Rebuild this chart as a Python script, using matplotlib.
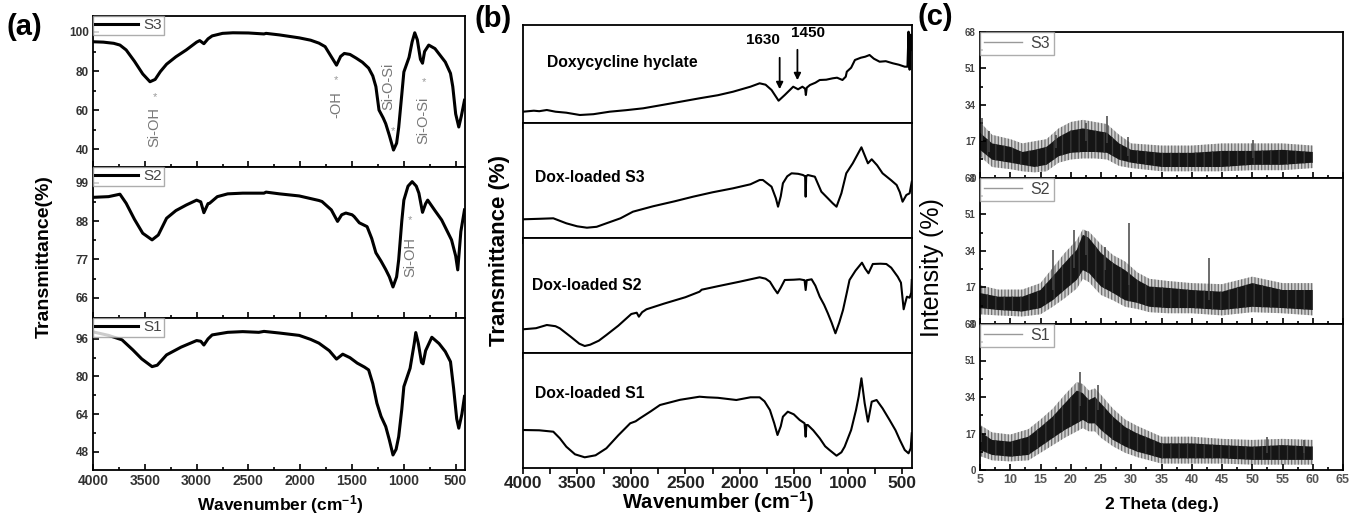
import numpy as np
import matplotlib
matplotlib.use("Agg")
import matplotlib.pyplot as plt
from matplotlib.ticker import MultipleLocator, FixedLocator

plt.rcParams['font.family'] = ['Liberation Sans', 'DejaVu Sans']
plt.rcParams['mathtext.fontset'] = 'custom'
plt.rcParams['mathtext.rm'] = 'Liberation Sans:bold'
plt.rcParams['mathtext.bf'] = 'Liberation Sans:bold'
plt.rcParams['mathtext.default'] = 'bf'
plt.rcParams['hatch.linewidth'] = 0.9

# ---------------- Panel (a): FTIR of S1-S3 ----------------
a_s3_w = [4000, 3900, 3800, 3740, 3680, 3600, 3520, 3450, 3400, 3350, 3290, 3200, 3100, 3000, 2970, 2930,
          2890, 2850, 2750, 2650, 2500, 2350, 2330, 2200, 2010, 1900, 1820, 1760, 1700, 1650, 1610, 1575,
          1520, 1460, 1400, 1340, 1300, 1270, 1240, 1200, 1175, 1140, 1100, 1070, 1050, 1020, 1000, 950,
          920, 895, 870, 840, 820, 800, 760, 700, 600, 550, 528, 500, 470, 445, 415]
a_s3_t = [95.0, 94.8, 94.2, 93.3, 90.8, 85.0, 78.5, 74.5, 75.7, 79.7, 83.5, 87.3, 90.8, 94.8, 95.6, 94.0,
          96.5, 98.0, 99.3, 99.6, 99.5, 99.0, 99.3, 98.5, 97.0, 95.8, 94.3, 92.5, 87.3, 83.0, 87.5, 89.0,
          88.5, 86.6, 84.5, 81.5, 77.5, 72.0, 60.0, 56.0, 53.0, 47.0, 39.5, 43.0, 51.0, 68.0, 79.5, 87.0,
          95.0, 99.6, 96.0, 86.0, 84.0, 90.0, 93.3, 91.5, 84.6, 78.8, 72.0, 58.0, 51.3, 57.0, 65.0]

a_s2_w = [4000, 3850, 3740, 3680, 3600, 3520, 3430, 3370, 3290, 3200, 3100, 3000, 2960, 2930, 2890, 2875,
          2800, 2700, 2555, 2350, 2330, 2200, 2010, 1820, 1790, 1700, 1640, 1600, 1560, 1500, 1480, 1430,
          1355, 1310, 1270, 1220, 1175, 1140, 1105, 1070, 1050, 1020, 1000, 960, 920, 880, 855, 820, 790,
          770, 700, 635, 540, 500, 480, 450, 415]
a_s2_t = [94.8, 95.0, 95.7, 93.1, 88.5, 84.5, 82.6, 84.0, 88.8, 91.0, 92.6, 94.0, 93.5, 90.4, 93.0, 93.1,
          95.0, 95.8, 96.0, 96.0, 96.3, 95.8, 95.2, 93.9, 93.6, 91.2, 87.9, 89.8, 90.3, 89.8, 89.3, 87.5,
          86.4, 83.0, 78.9, 76.5, 74.1, 72.0, 69.1, 72.0, 76.9, 88.0, 94.0, 98.0, 99.3, 98.0, 96.0, 90.5, 93.0,
          94.0, 91.0, 88.3, 82.6, 78.0, 74.0, 85.0, 91.2]

a_s1_w = [4000, 3850, 3720, 3615, 3530, 3430, 3380, 3290, 3150, 3000, 2960, 2930, 2890, 2850, 2700, 2555,
          2400, 2350, 2200, 2010, 1900, 1820, 1720, 1650, 1590, 1520, 1450, 1380, 1340, 1300, 1260, 1220,
          1175, 1140, 1105, 1075, 1050, 1020, 1000, 940, 900, 885, 860, 830, 815, 790, 730, 660, 600, 550,
          520, 490, 470, 440, 415]
a_s1_t = [99.0, 97.5, 95.6, 91.3, 87.5, 84.2, 84.8, 89.2, 92.5, 95.3, 95.0, 93.4, 96.0, 97.7, 98.8, 99.1,
          98.8, 99.2, 98.5, 97.5, 95.8, 94.2, 91.0, 87.4, 89.5, 88.0, 85.7, 84.0, 82.8, 77.0, 68.6, 63.0,
          58.7, 53.0, 46.6, 49.0, 54.4, 66.0, 75.7, 83.5, 94.0, 98.7, 94.0, 86.0, 85.4, 91.0, 96.7, 94.0, 90.6, 86.3,
          75.0, 62.0, 58.0, 64.0, 71.5]

a_labels = ["S3", "S2", "S1"]
a_yticks = [[40, 60, 80, 100], [66, 77, 88, 99], [48, 64, 80, 96]]
a_ylims = [(30.8, 108.2), (60.2, 103.5), (40.2, 104.9)]
a_xticks = [4000, 3500, 3000, 2500, 2000, 1500, 1000, 500]

# ---------------- Panel (b): FTIR of drug and loaded samples ----------------
b_dox_w = [4000, 3900, 3850, 3780, 3700, 3600, 3475, 3350, 3200, 3050, 2890, 2700, 2370, 2200, 2060, 1900,
           1815, 1760, 1705, 1640, 1583, 1505, 1460, 1420, 1395, 1388, 1380, 1350, 1300, 1260, 1200, 1140,
           1100, 1050, 1020, 1010, 970, 935, 880, 840, 800, 760, 707, 650, 585, 530, 475, 450, 440, 430,
           420, 410]
b_dox_t = [11, 12, 11.5, 12.7, 11, 10, 7.7, 8.5, 11, 12.5, 14.4, 18, 24.4, 27.5, 31, 36,
           39.4, 38, 32.7, 22, 27.7, 36, 33.4, 36, 34, 27.7, 35, 37.7, 40, 42.7, 43, 44.4,
           45, 42.7, 46, 51, 55, 62.7, 65, 66, 67.7, 64, 61, 61.5, 59.4, 58, 56, 56, 91, 53,
           88, 72.7]

b_s3_w = [4000, 3850, 3720, 3600, 3500, 3410, 3320, 3230, 3100, 2985, 2800, 2600, 2430, 2250, 2060, 1900,
          1815, 1785, 1705, 1665, 1645, 1620, 1600, 1560, 1520, 1460, 1415, 1395, 1390, 1385, 1370, 1305,
          1245, 1185, 1140, 1105, 1060, 1015, 955, 910, 875, 845, 815, 780, 730, 680, 600, 550, 520, 495,
          460, 430, 410]
b_s3_t = [19, 19.5, 20, 15, 12, 10.6, 11.5, 15, 20, 26.6, 32, 37, 41.6, 46, 50, 54,
          58.3, 58.3, 51.6, 40, 31.6, 42, 55, 62, 65, 64.5, 63.3, 62, 41.6, 62, 63.3, 61.6,
          46.6, 40, 35, 31.6, 45, 65, 75, 84, 91, 83, 75, 79, 73, 65, 58, 53.3, 46, 36.6,
          43.3, 45, 56.6]

b_s2_w = [4000, 3880, 3780, 3700, 3660, 3560, 3480, 3430, 3380, 3300, 3230, 3120, 3000, 2950, 2930, 2900,
          2860, 2700, 2500, 2370, 2350, 2200, 2000, 1815, 1760, 1720, 1680, 1650, 1620, 1583, 1500, 1445,
          1400, 1390, 1380, 1335, 1300, 1260, 1220, 1185, 1150, 1115, 1080, 1045, 1010, 985, 930, 870, 840,
          810, 770, 700, 645, 600, 540, 510, 485, 470, 455, 430, 415, 410]
b_s2_t = [23.4, 24.5, 27.7, 26.5, 24.4, 16, 9, 6.7, 8, 12, 17.7, 27, 38.7, 40, 36, 40.5,
          43.4, 49, 55.5, 61, 63, 66.5, 71, 75.4, 74, 71, 64, 59.4, 65, 72.7, 73, 73.4,
          72.5, 62.7, 72.5, 73.4, 67, 56, 48, 39.4, 30, 19.4, 30, 42.7, 60, 72.7, 82, 90, 84,
          79.4, 88.7, 89, 88.7, 85, 76, 70, 43.4, 50, 56, 55, 60, 72.7]

b_s1_w = [4000, 3850, 3720, 3660, 3600, 3520, 3430, 3330, 3230, 3120, 3010, 2960, 2920, 2820, 2735, 2550,
          2370, 2300, 2200, 2030, 1900, 1815, 1770, 1720, 1680, 1650, 1620, 1600, 1555, 1500, 1445, 1400,
          1390, 1383, 1370, 1320, 1260, 1210, 1170, 1105, 1060, 1030, 970, 925, 900, 875, 845, 815, 800,
          780, 735, 680, 615, 560, 520, 475, 440, 420, 410]
b_s1_t = [38.3, 38, 36.6, 30, 21.6, 14, 11, 13, 20, 33, 45, 47, 50, 57, 63.3, 68.5,
          71.6, 71, 70.5, 68.3, 71, 71, 67, 58.3, 45, 33.3, 42, 51.6, 56.6, 54, 48.3, 45,
          31.6, 43.3, 43.3, 38, 30, 22, 18.3, 12.6, 16, 21.6, 38.3, 58.3, 72, 90, 65, 46.6, 55,
          66.6, 68.3, 60, 48.3, 38, 28.3, 18.3, 15, 20, 35]

b_names = ["Doxycycline hyclate", "Dox-loaded S3", "Dox-loaded S2", "Dox-loaded S1"]
b_xticks = [4000, 3500, 3000, 2500, 2000, 1500, 1000, 500]
b_arrow_w = [1630, 1466]
b_arrow_text = ["1630", "1450"]

# ---------------- Panel (c): XRD (noise band envelopes) ----------------
c_s3_th = [5, 7, 10, 12, 14, 16, 18, 20, 22, 24, 26, 28, 30, 35, 40, 45, 50, 55, 60]
c_s3_hi = [21, 16, 14.4, 12, 13, 14.4, 19, 22, 23, 22, 21, 16, 13, 11.6, 11.6, 12.5, 12.5, 13, 12]
c_s3_lo = [13, 8.4, 7, 6, 5, 6, 10, 11.6, 12, 12, 11.6, 8.4, 7, 5, 5, 5, 6, 6, 7]
c_s3_hi2 = [26, 20, 18, 16, 17, 18, 23, 26, 27, 26, 25, 20, 16, 15, 15, 16, 16, 16, 15]
c_s3_lo2 = [10, 5, 4, 3, 2.5, 3, 7, 8.5, 9, 9, 8.5, 5.5, 4.5, 3, 3, 3, 3.5, 3.5, 4.5]
c_s3_spk_th = [5.3, 6.5, 17.5, 22.5, 26.0, 29.5, 50.2]
c_s3_spk_top = [28, 22, 20, 25.6, 28.6, 19, 17.7]
c_s3_spk_base = [17, 12, 14, 17, 16, 10, 9]

c_s2_th = [5, 8, 12, 15, 17, 19, 21, 22, 23, 25, 27, 29, 31, 33, 36, 40, 45, 50, 55, 60]
c_s2_hi = [14.4, 12.7, 12.7, 15.8, 22, 28.4, 34.5, 41.5, 40, 33, 28.4, 25, 20.5, 17.4, 16.8, 15.8, 15, 19, 15.8, 15.8]
c_s2_lo = [7.4, 6.5, 5.8, 7.4, 11, 15.8, 20.5, 25, 23.7, 17.4, 14.4, 11, 9.8, 8, 7.4, 7.4, 6.5, 8, 7.4, 6.5]
c_s2_hi2 = [18, 16, 16, 19, 26, 33, 39, 44, 43, 37, 32, 29, 24, 21, 20, 19, 18.5, 22, 19, 19]
c_s2_lo2 = [4.5, 4, 3.5, 4.5, 8, 12, 16.5, 21, 19.5, 13.5, 11, 8, 7, 5.5, 5, 5, 4, 5.5, 5, 4]
c_s2_spk_th = [17.0, 20.5, 22.5, 25.6, 29.7, 42.8]
c_s2_spk_top = [34.5, 43.8, 43, 36, 47, 30.6]
c_s2_spk_base = [16, 26, 32, 25, 18, 11]

c_s1_th = [5, 7, 10, 13, 15, 17, 19, 21, 22, 23, 24, 25, 27, 29, 31, 33, 35, 40, 45, 50, 55, 60]
c_s1_hi = [17.8, 14, 13.2, 15.5, 20, 24.8, 31, 37, 35.8, 32.6, 34, 31, 24.8, 20, 17, 14.8, 12.4, 12.4, 11.6, 10.9, 11.6, 10.9]
c_s1_lo = [9.3, 7, 6.2, 7, 10.9, 14.8, 18.6, 21.7, 23.3, 21.7, 21.7, 18.6, 14, 10.9, 8.5, 7, 5.4, 5.4, 5.4, 4.7, 4.7, 4.7]
c_s1_hi2 = [21, 17.5, 16.5, 19, 23.5, 28.5, 35, 41, 40, 37, 38, 35, 28.5, 23.5, 20.5, 18, 15.5, 15.5, 14.5, 14, 14.5, 14]
c_s1_lo2 = [6.5, 4.5, 4, 4.5, 8, 11.5, 15, 18, 19.5, 18, 18, 15, 11, 8, 6, 4.5, 3, 3, 3, 2.5, 2.5, 2.5]
c_s1_spk_th = [5.2, 21.5, 24.5, 52.5, 58.5]
c_s1_spk_top = [20, 45.8, 39.6, 15.5, 14]
c_s1_spk_base = [13, 30, 28, 8, 8]

c_yticks = [0, 17, 34, 51, 68]
c_xticks = [5, 10, 15, 20, 25, 30, 35, 40, 45, 50, 55, 60, 65]

# ---------------- Figure ----------------
W, H = 1349, 515
fig = plt.figure(figsize=(W / 100, H / 100), dpi=100)


def px_axes(l, t, r, b):
    return fig.add_axes([l / W, 1 - b / H, (r - l) / W, (b - t) / H])


def fy(y):
    return 1 - y / H


SP_LW = 1.3

# ----- (a) -----
a_bounds = [16, 167, 318, 470]
a_series = [(a_s3_w, a_s3_t), (a_s2_w, a_s2_t), (a_s1_w, a_s1_t)]
a_axes = []
for i in range(3):
    ax = px_axes(93, a_bounds[i], 465, a_bounds[i + 1])
    w, t = a_series[i]
    ax.plot(w, t, color='black', lw=2.2, label=a_labels[i], solid_joinstyle='round')
    ax.set_xlim(4000, 410)
    ax.set_ylim(*a_ylims[i])
    yt = a_yticks[i]
    ax.set_yticks(yt)
    ax.set_yticklabels([str(v) for v in yt], fontweight='bold', fontsize=8.5, color='#333')
    ax.yaxis.set_minor_locator(FixedLocator([v + (yt[1] - yt[0]) / 2 for v in yt[:-1]]))
    ax.set_xticks(a_xticks)
    ax.xaxis.set_minor_locator(MultipleLocator(250))
    ax.tick_params(axis='both', which='both', direction='in', top=False, right=False, width=1.2)
    ax.tick_params(axis='both', which='major', length=4, pad=3)
    ax.tick_params(axis='both', which='minor', length=2.5)
    if i < 2:
        ax.set_xticklabels([])
    else:
        ax.set_xticklabels([str(v) for v in a_xticks], fontweight='bold', fontsize=10, color='#333')
    for s in ax.spines.values():
        s.set_linewidth(SP_LW)
    leg = ax.legend(loc='upper left', borderaxespad=0, frameon=True, fancybox=False,
                    handlelength=2.8, handletextpad=0.35, borderpad=0.15, fontsize=11,
                    labelcolor='#444')
    leg.get_frame().set_edgecolor('#999')
    leg.get_frame().set_linewidth(1.0)
    a_axes.append(ax)

ann_kw = dict(rotation=90, color='#777', ha='center', va='center', fontsize=10.5)
star_kw = dict(color='#999', ha='center', va='center', fontsize=8)
a_axes[0].text(3404, 51.5, "Si-OH", **ann_kw)
a_axes[0].text(3404, 66.7, "*", **star_kw)
a_axes[0].text(1654, 63.0, "-OH", **ann_kw)
a_axes[0].text(1654, 75.4, "*", **star_kw)
a_axes[0].text(1154, 72.3, "Si-O-Si", **ann_kw)
a_axes[0].text(1105, 49.0, "*", **star_kw)
a_axes[0].text(808, 54.9, "Si-O-Si", **ann_kw)
a_axes[0].text(808, 74.5, "*", **star_kw)
a_axes[1].text(942, 77.6, "Si-OH", **ann_kw)
a_axes[1].text(942, 88.3, "*", **star_kw)

fig.text(280 / W, fy(510), r"Wavenumber (cm$^{-1}$)", fontweight='bold', fontsize=12.5,
         ha='center', va='baseline')
fig.text(44 / W, fy(257), "Transmittance(%)", rotation=90, fontweight='bold', fontsize=14,
         ha='center', va='center')
fig.text(24 / W, fy(27), "(a)", fontweight='bold', fontsize=21, ha='center', va='center')

# ----- (b) -----
b_bounds = [25, 122.7, 238.3, 352.7, 468.3]
b_series = [(b_dox_w, b_dox_t), (b_s3_w, b_s3_t), (b_s2_w, b_s2_t), (b_s1_w, b_s1_t)]
b_name_pos = [(3779, 62.0), (3889, 177.0), (3917, 285.0), (3889, 393.0)]
b_axes = []
for i in range(4):
    top, bot = b_bounds[i], b_bounds[i + 1]
    ax = px_axes(523, top, 912, bot)
    w, t = b_series[i]
    ax.plot(w, t, color='black', lw=1.5, solid_joinstyle='round')
    ax.set_xlim(4000, 408)
    ax.set_ylim(0, bot - top)
    ax.set_yticks([])
    ax.set_xticks(b_xticks)
    ax.xaxis.set_minor_locator(MultipleLocator(250))
    ax.tick_params(axis='x', which='both', direction='out', top=False, width=1.2, length=4)
    if i < 3:
        ax.set_xticklabels([])
    else:
        ax.set_xticklabels([str(v) for v in b_xticks], fontweight='bold', fontsize=12.5, color='#222')
        ax.tick_params(axis='x', pad=1.5)
    for s in ax.spines.values():
        s.set_linewidth(SP_LW)
    nx, ny = b_name_pos[i]
    ax.text(nx, bot - ny, b_names[i], fontweight='bold', fontsize=11.3, ha='left', va='center')
    b_axes.append(ax)

axd = b_axes[0]
hb = b_bounds[1]
for wv, txt, (y0, y1, tx, ty) in zip(b_arrow_w, b_arrow_text, [(55, 92, 1786, 40), (47, 83, 1371, 33)]):
    axd.annotate("", xy=(wv, hb - y1), xytext=(wv, hb - y0),
                 arrowprops=dict(arrowstyle='-|>', color='black', lw=1.3, mutation_scale=10))
    axd.text(tx, hb - ty, txt, fontweight='bold', fontsize=11, ha='center', va='center')

fig.text(718 / W, fy(509), r"Wavenumber (cm$^{-1}$)", fontweight='bold', fontsize=14.5,
         ha='center', va='baseline')
fig.text(499 / W, fy(250), "Transmittance (%)", rotation=90, fontweight='bold', fontsize=16,
         ha='center', va='center')
fig.text(493 / W, fy(19), "(b)", fontweight='bold', fontsize=21, ha='center', va='center')

# ----- (c) -----
c_bounds = [32, 177.7, 324, 470]
c_series = [
    (c_s3_th, c_s3_lo, c_s3_hi, c_s3_lo2, c_s3_hi2, c_s3_spk_th, c_s3_spk_base, c_s3_spk_top, "S3"),
    (c_s2_th, c_s2_lo, c_s2_hi, c_s2_lo2, c_s2_hi2, c_s2_spk_th, c_s2_spk_base, c_s2_spk_top, "S2"),
    (c_s1_th, c_s1_lo, c_s1_hi, c_s1_lo2, c_s1_hi2, c_s1_spk_th, c_s1_spk_base, c_s1_spk_top, "S1"),
]
for i in range(3):
    ax = px_axes(980, c_bounds[i], 1343, c_bounds[i + 1])
    th, lo, hi, lo2, hi2, sth, sb, st, lab = c_series[i]
    ax.fill_between(th, lo2, hi2, facecolor='#cfcfcf', edgecolor='#707070', hatch='|||||', linewidth=0)
    ax.fill_between(th, lo, hi, facecolor='#151515', edgecolor='#3a3a3a', hatch='||', linewidth=0)
    ax.vlines(sth, sb, st, color='#444', lw=1.1)
    ax.plot([], [], color='#999', lw=1.0, label=lab)
    ax.set_xlim(5, 65)
    ax.set_ylim(0, 68)
    ax.set_yticks(c_yticks)
    ax.set_yticklabels([str(v) for v in c_yticks], fontweight='bold', fontsize=7, color='#444')
    ax.yaxis.set_minor_locator(MultipleLocator(8.5))
    ax.set_xticks(c_xticks)
    ax.xaxis.set_minor_locator(MultipleLocator(2.5))
    ax.tick_params(axis='both', which='both', direction='in', top=False, right=False, width=1.2)
    ax.tick_params(axis='both', which='major', length=4, pad=3)
    ax.tick_params(axis='both', which='minor', length=2.5)
    if i < 2:
        ax.set_xticklabels([])
    else:
        ax.set_xticklabels([str(v) for v in c_xticks], fontweight='bold', fontsize=9, color='#555')
    for s in ax.spines.values():
        s.set_linewidth(SP_LW)
    leg = ax.legend(loc='upper left', borderaxespad=0, frameon=True, fancybox=False,
                    handlelength=2.4, handletextpad=0.5, borderpad=0.25, fontsize=11.5,
                    labelcolor='#444')
    leg.get_frame().set_edgecolor('#999')
    leg.get_frame().set_linewidth(1.0)

fig.text(1162 / W, fy(509), "2 Theta (deg.)", fontweight='bold', fontsize=12.5,
         ha='center', va='baseline')
fig.text(932 / W, fy(268), "Intensity (%)", rotation=90, fontsize=18,
         ha='center', va='center')
fig.text(935 / W, fy(17), "(c)", fontweight='bold', fontsize=21, ha='center', va='center')

fig.savefig("out.png", dpi=100)
